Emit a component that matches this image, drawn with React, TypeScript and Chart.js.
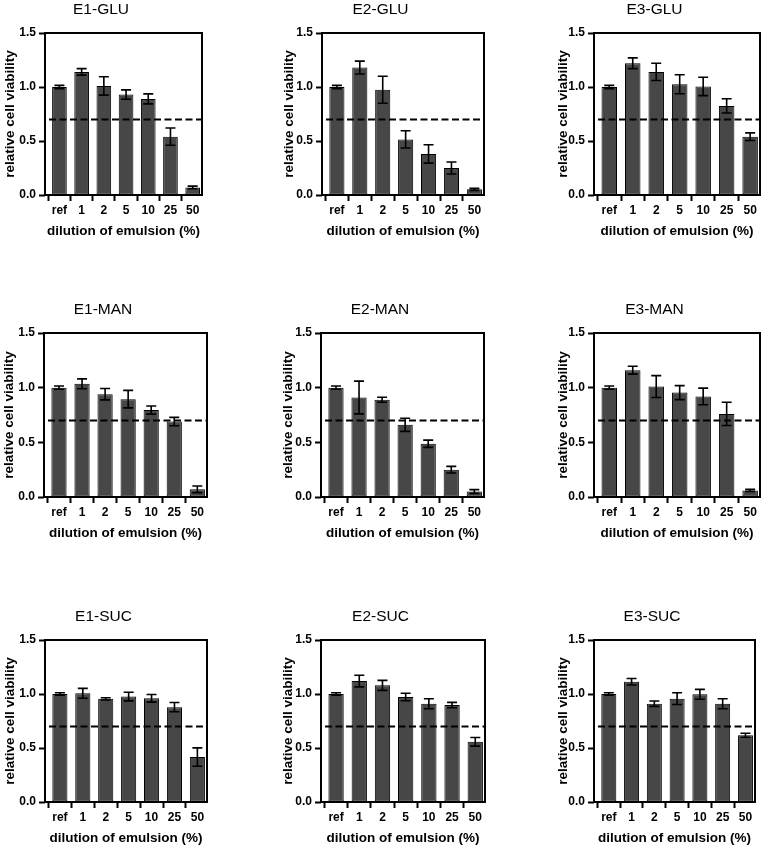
import React, { useEffect, useRef } from "react";
import { Chart, registerables } from "chart.js";

Chart.register(...registerables);

const categories = ["ref", "1", "2", "5", "10", "25", "50"];
const yTicks = [0, 0.5, 1.0, 1.5];
const threshold = 0.7;
const xAxisTitle = "dilution of emulsion (%)";
const yAxisTitle = "relative cell viability";

const e1GluMean = [1.0, 1.14, 1.01, 0.93, 0.89, 0.54, 0.07];
const e1GluErr = [0.015, 0.03, 0.085, 0.043, 0.046, 0.08, 0.012];
const e2GluMean = [1.0, 1.18, 0.975, 0.515, 0.38, 0.25, 0.053];
const e2GluErr = [0.015, 0.06, 0.125, 0.08, 0.085, 0.055, 0.01];
const e3GluMean = [1.0, 1.22, 1.14, 1.025, 1.005, 0.825, 0.54];
const e3GluErr = [0.015, 0.05, 0.08, 0.088, 0.085, 0.066, 0.035];
const e1ManMean = [1.0, 1.035, 0.94, 0.895, 0.795, 0.69, 0.07];
const e1ManErr = [0.015, 0.045, 0.052, 0.08, 0.037, 0.038, 0.03];
const e2ManMean = [1.0, 0.91, 0.89, 0.66, 0.487, 0.25, 0.05];
const e2ManErr = [0.015, 0.15, 0.023, 0.06, 0.033, 0.03, 0.017];
const e3ManMean = [1.0, 1.16, 1.01, 0.955, 0.92, 0.76, 0.06];
const e3ManErr = [0.015, 0.036, 0.1, 0.064, 0.076, 0.106, 0.01];
const e1SucMean = [1.0, 1.006, 0.955, 0.976, 0.96, 0.878, 0.416];
const e1SucErr = [0.012, 0.046, 0.01, 0.04, 0.035, 0.043, 0.085];
const e2SucMean = [1.0, 1.12, 1.08, 0.972, 0.91, 0.897, 0.557];
const e2SucErr = [0.012, 0.054, 0.046, 0.035, 0.046, 0.025, 0.04];
const e3SucMean = [1.0, 1.113, 0.91, 0.957, 0.997, 0.91, 0.618];
const e3SucErr = [0.012, 0.03, 0.025, 0.054, 0.046, 0.046, 0.018];

const panelTitles = [
  "E1-GLU", "E2-GLU", "E3-GLU",
  "E1-MAN", "E2-MAN", "E3-MAN",
  "E1-SUC", "E2-SUC", "E3-SUC",
];
const panelMeans = [e1GluMean, e2GluMean, e3GluMean, e1ManMean, e2ManMean, e3ManMean, e1SucMean, e2SucMean, e3SucMean];
const panelErrs = [e1GluErr, e2GluErr, e3GluErr, e1ManErr, e2ManErr, e3ManErr, e1SucErr, e2SucErr, e3SucErr];

// layout: [plotLeft, plotRight, plotTop, plotBottom, yTitleGap]
const frames: number[][] = [
  [45, 202, 33, 195, 35], [322, 484, 33, 195, 33], [594, 760, 33, 195, 31],
  [44, 207, 333, 497, 35], [321, 484, 333, 497, 33], [594, 760, 333, 497, 31],
  [45, 207, 640, 802, 35], [321, 485, 640, 802, 33], [594, 755, 640, 802, 31],
];

const FONT = "'Liberation Sans', Arial, Helvetica, sans-serif";
const Y_AXIS_W = 45;
const TOP_SPACE = 40;
const X_AXIS_H = 46;
const RIGHT_PAD = 4;

function Panel({ idx }: { idx: number }) {
  const ref = useRef<HTMLCanvasElement>(null);
  const [l, r, t, b, gap] = frames[idx];
  const width = r - l + Y_AXIS_W + RIGHT_PAD;
  const height = b - t + TOP_SPACE + X_AXIS_H;

  useEffect(() => {
    const mean = panelMeans[idx];
    const err = panelErrs[idx];
    const decor = {
      id: "decor",
      afterDatasetsDraw(chart: any) {
        const { ctx, chartArea } = chart;
        const y = chart.scales.y;
        const meta = chart.getDatasetMeta(0);
        ctx.save();
        ctx.strokeStyle = "#000";
        ctx.lineWidth = 1.6;
        meta.data.forEach((bar: any, i: number) => {
          const x = bar.x;
          const yTop = y.getPixelForValue(mean[i] + err[i]);
          const yBot = y.getPixelForValue(mean[i] - err[i]);
          ctx.beginPath();
          ctx.moveTo(x, yTop);
          ctx.lineTo(x, yBot);
          ctx.moveTo(x - 5, yTop);
          ctx.lineTo(x + 5, yTop);
          ctx.moveTo(x - 5, yBot);
          ctx.lineTo(x + 5, yBot);
          ctx.stroke();
        });
        const yt = y.getPixelForValue(threshold);
        ctx.lineWidth = 2;
        ctx.setLineDash([7, 3.5]);
        ctx.beginPath();
        ctx.moveTo(chartArea.left + 4, yt);
        ctx.lineTo(chartArea.right, yt);
        ctx.stroke();
        ctx.setLineDash([]);
        ctx.lineWidth = 2;
        ctx.strokeRect(
          chartArea.left,
          chartArea.top,
          chartArea.right - chartArea.left,
          chartArea.bottom - chartArea.top
        );
        ctx.restore();
      },
    };

    const chart = new Chart(ref.current as HTMLCanvasElement, {
      type: "bar",
      data: {
        datasets: [
          {
            data: mean.map((v, i) => ({ x: i, y: v })),
            backgroundColor: "#474747",
            borderColor: "#000",
            borderWidth: 1,
            borderSkipped: false,
            barPercentage: 0.66,
            categoryPercentage: 1,
          } as any,
        ],
      },
      options: {
        animation: false,
        responsive: false,
        devicePixelRatio: 1,
        layout: { padding: { left: 0, right: RIGHT_PAD, top: 0, bottom: 0 } },
        plugins: {
          legend: { display: false },
          tooltip: { enabled: false },
          title: {
            display: true,
            text: panelTitles[idx],
            color: "#000",
            font: { family: FONT, size: 15.5, weight: "normal" },
            padding: { top: 7, bottom: 14.4 },
          },
        },
        scales: {
          x: {
            type: "linear",
            min: -0.65,
            max: 6.42,
            offset: false,
            afterBuildTicks: (s: any) => {
              s.ticks = categories.map((_, i) => ({ value: i }));
            },
            afterFit: (s: any) => {
              s.height = X_AXIS_H;
            },
            ticks: {
              autoSkip: false,
              maxRotation: 0,
              minRotation: 0,
              padding: 2,
              color: "#000",
              font: { family: FONT, size: 12, weight: "bold" },
              callback: (v: any) => categories[Math.round(Number(v))] ?? "",
            },
            grid: {
              display: true,
              drawOnChartArea: false,
              drawTicks: true,
              tickLength: 6,
              tickWidth: 2,
              tickColor: "#000",
            },
            border: { display: false },
            title: {
              display: true,
              text: xAxisTitle,
              color: "#000",
              font: { family: FONT, size: 13.5, weight: "bold" },
              padding: { top: 0, bottom: 2 },
            },
          } as any,
          y: {
            min: 0,
            max: 1.5,
            afterBuildTicks: (s: any) => {
              s.ticks = yTicks.map((v) => ({ value: v }));
            },
            afterFit: (s: any) => {
              s.width = Y_AXIS_W;
            },
            ticks: {
              padding: 3,
              color: "#000",
              font: { family: FONT, size: 12, weight: "bold" },
              callback: (v: any) => Number(v).toFixed(1),
            },
            grid: {
              display: true,
              drawOnChartArea: false,
              drawTicks: true,
              tickLength: 6,
              tickWidth: 2,
              tickColor: "#000",
            },
            border: { display: false },
            title: {
              display: true,
              text: yAxisTitle,
              color: "#000",
              font: { family: FONT, size: 13.5, weight: "bold" },
              padding: { top: Y_AXIS_W - gap - 8.1, bottom: 0 },
            },
          } as any,
        },
      },
      plugins: [decor],
    });
    return () => chart.destroy();
  }, [idx]);

  return (
    <canvas
      ref={ref}
      width={width}
      height={height}
      style={{
        position: "absolute",
        left: l - Y_AXIS_W,
        top: t - TOP_SPACE,
        width,
        height,
      }}
    />
  );
}

export default function App() {
  return (
    <div
      style={{
        position: "absolute",
        left: 0,
        top: 0,
        width: 763,
        height: 846,
        overflow: "hidden",
        background: "#fff",
      }}
    >
      {panelTitles.map((_, i) => (
        <Panel key={i} idx={i} />
      ))}
    </div>
  );
}
